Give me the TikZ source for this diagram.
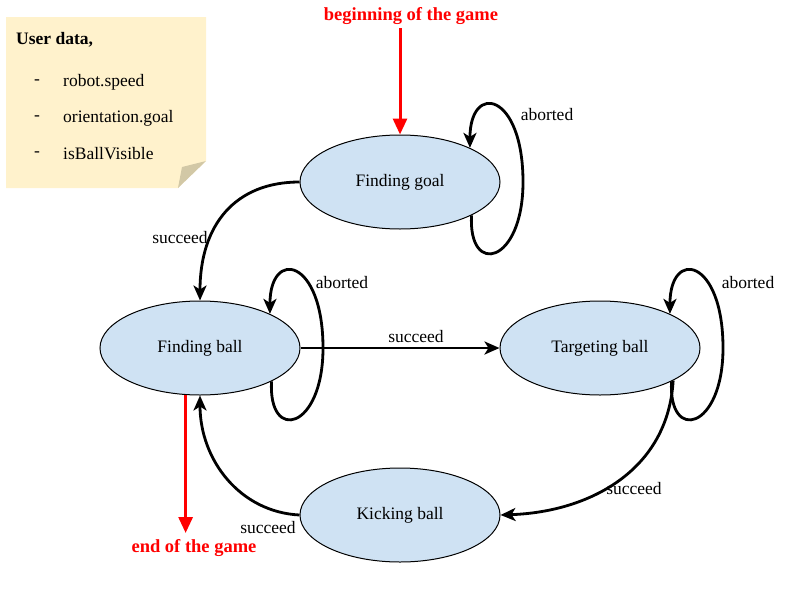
\documentclass[tikz,border=0pt]{standalone}
\usepackage{fontspec}
\setmainfont{Liberation Serif}
\usetikzlibrary{arrows.meta,calc,shapes.geometric}
\definecolor{statefill}{RGB}{207,226,243}
\definecolor{notefill}{RGB}{255,242,204}
\definecolor{foldfill}{RGB}{210,200,166}
\tikzset{
  state/.style={ellipse, draw=black, line width=1pt, fill=statefill, minimum width=200pt, minimum height=94pt, inner sep=0pt, font=\fontsize{17.5}{20}\selectfont},
  edge/.style={line width=2.8pt, -{Stealth[length=15pt,width=13pt,inset=4pt]}},
  redge/.style={red, line width=3pt, -{Triangle[length=16pt,width=14pt]}},
  lbl/.style={font=\fontsize{17.5}{20}\selectfont, inner sep=0pt},
  rlbl/.style={font=\bfseries\fontsize{18.5}{20}\selectfont, text=red, inner sep=0pt},
  notetext/.style={font=\fontsize{17.5}{20}\selectfont, inner sep=0pt, anchor=west},
}
\begin{document}
\begin{tikzpicture}[x=1pt,y=-1pt]
\useasboundingbox (0,0) rectangle (800,600);
% sticky note
\fill[notefill] (6,17) -- (206,17) -- (206,161) -- (178,188) -- (6,188) -- cycle;
\fill[foldfill] (206,161) -- (182,167) -- (178,188) -- cycle;
\node[notetext, font=\bfseries\fontsize{17.5}{20}\selectfont] (ud) at (16,40) {User data,};
\node[notetext] (d1) at (34,82) {-};
\node[notetext] (i1) at (63,82) {robot.speed};
\node[notetext] (d2) at (34,118) {-};
\node[notetext] (i2) at (63,118) {orientation.goal};
\node[notetext] (d3) at (34,154) {-};
\node[notetext] (i3) at (63,154) {isBallVisible};
% states
\node[state] (fg) at (400,182) {Finding goal};
\node[state] (fb) at (200,348) {Finding ball};
\node[state] (tb) at (600,348) {Targeting ball};
\node[state] (kb) at (400,515) {Kicking ball};
% start / end
\node[rlbl] (begin) at (411,16) {beginning of the game};
\coordinate (bs) at (400,28);
\draw[redge] (bs) -- (fg.north);
\coordinate (ee) at (186,533);
\draw[redge] (fb.-107) -- (fb.-107 |- ee);
\node[rlbl] (end) at (194,548) {end of the game};
% transitions
\draw[edge] (fg.west) .. controls (235,182) and (200,225) .. (fb.north);
\node[lbl] (l1) at (180,238) {succeed};
\draw[edge] (fb.east) -- (tb.west);
\node[lbl] (l2) at (416,337) {succeed};
\draw[edge] (tb.-24) .. controls (668,470) and (590,512) .. (kb.east);
\node[lbl] (l3) at (634,489) {succeed};
\draw[edge] (kb.west) .. controls (240,512) and (200,460) .. (fb.south);
\node[lbl] (l4) at (268,528) {succeed};
% self loops
\foreach \s in {fg,fb,tb}{
  \draw[edge] (\s.-25) .. controls ($(\s.center)+(68,95)$) and ($(\s.center)+(123,82)$) .. ($(\s.center)+(123,0)$)
     .. controls ($(\s.center)+(123,-90)$) and ($(\s.center)+(70,-100)$) .. (\s.26);
}
\node[lbl] (a1) at ($(fg.center)+(147,-67)$) {aborted};
\node[lbl] (a2) at ($(fb.center)+(142,-65)$) {aborted};
\node[lbl] (a3) at ($(tb.center)+(148,-65)$) {aborted};
\end{tikzpicture}
\end{document}
